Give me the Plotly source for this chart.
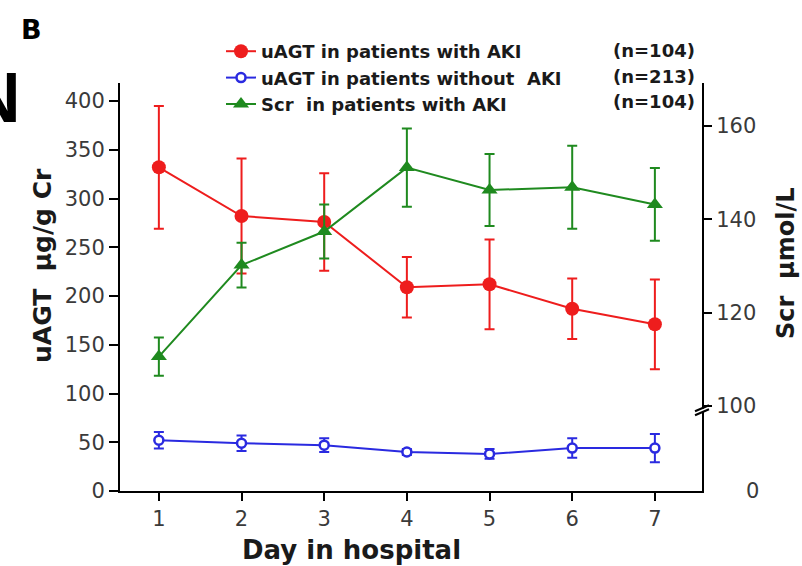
import plotly.graph_objects as go

days = [1, 2, 3, 4, 5, 6, 7]
day_labels = ["1", "2", "3", "4", "5", "6", "7"]

uagt_aki = [332, 282, 276, 209, 212, 187, 171]
uagt_aki_err = [63, 59, 50, 31, 46, 31, 46]

uagt_noaki = [52, 49, 47, 40, 38, 44, 44]
uagt_noaki_err = [8.5, 8, 7, 3, 5, 10, 14.5]

scr_aki = [110.6, 130.2, 137.4, 151.1, 146.3, 146.9, 143.2]
scr_aki_err = [4.1, 4.8, 5.8, 8.4, 7.7, 8.9, 7.8]

left_ticks = [0, 50, 100, 150, 200, 250, 300, 350, 400]
right_ticks = [100, 120, 140, 160]

names = ["uAGT in patients with AKI", "uAGT in patients without\u00a0 AKI", "Scr\u00a0 in patients with AKI"]
ns = ["(n=104)", "(n=213)", "(n=104)"]

RED = "#ee1d1d"
BLUE = "#2a2ae0"
GREEN = "#1f8a1f"
FONT = "DejaVu Sans, Verdana, sans-serif"

fig = go.Figure()

fig.add_trace(go.Scatter(
    x=days, y=uagt_aki, name=names[0], mode="lines+markers",
    line=dict(color=RED, width=2),
    marker=dict(symbol="circle", size=14, color=RED),
    error_y=dict(type="data", array=uagt_aki_err, color=RED, thickness=2, width=5),
))
fig.add_trace(go.Scatter(
    x=days, y=uagt_noaki, name=names[1], mode="lines+markers",
    line=dict(color=BLUE, width=2),
    marker=dict(symbol="circle", size=9, color="white", line=dict(color=BLUE, width=2.5)),
    error_y=dict(type="data", array=uagt_noaki_err, color=BLUE, thickness=2, width=5),
))
fig.add_trace(go.Scatter(
    x=days, y=scr_aki, name=names[2], mode="lines+markers", yaxis="y2",
    line=dict(color=GREEN, width=2),
    marker=dict(symbol="triangle-up", size=14, color=GREEN),
    error_y=dict(type="data", array=scr_aki_err, color=GREEN, thickness=2, width=5),
))

# pixel geometry helpers (plot area 120..702 x 83..491)
L, R, T, B = 120, 100, 83, 75
W, H = 802, 566
pw, ph = W - L - R, H - T - B

def px(xpix):
    return (xpix - L) / pw

def py(ypix):
    return (H - B - ypix) / ph

# right axis: 100 at pixel 406, 20 units = 93.3 px
r_per_px = 20 / 93.3
y2_min = 100 - (491 - 406) * r_per_px
y2_max = 100 + (406 - 83) * r_per_px

TICKFONT = dict(family=FONT, size=21, color="#3a3a3a")

fig.update_layout(
    width=W, height=H, autosize=False,
    margin=dict(l=L, r=R, t=T, b=B, pad=0),
    paper_bgcolor="white", plot_bgcolor="white",
    font=dict(family=FONT, size=16, color="#333"),
    showlegend=True,
    legend=dict(
        x=px(221), y=py(33), xanchor="left", yanchor="top",
        font=dict(family=FONT, size=18, color="#1a1a1a", weight="bold"),
        bgcolor="rgba(0,0,0,0)", itemwidth=30, tracegroupgap=0,
    ),
    xaxis=dict(
        range=[0.53, 7.57], tickvals=days, ticktext=day_labels,
        showline=True, linecolor="black", linewidth=2, mirror=False,
        ticks="outside", ticklen=8, tickwidth=2, tickcolor="black",
        showgrid=False, zeroline=False,
        tickfont=TICKFONT,
    ),
    yaxis=dict(
        range=[0, (491 - 83) / 0.975], tickvals=left_ticks,
        showline=True, linecolor="black", linewidth=2,
        ticks="outside", ticklen=9, tickwidth=2, tickcolor="black",
        showgrid=False, zeroline=False,
        tickfont=TICKFONT,
    ),
    yaxis2=dict(
        range=[y2_min, y2_max], tickvals=right_ticks, overlaying="y", side="right",
        showline=True, linecolor="black", linewidth=2,
        ticks="outside", ticklen=8, tickwidth=2, tickcolor="black",
        showgrid=False, zeroline=False,
        tickfont=TICKFONT,
    ),
)

ann = []
ann.append(dict(text="B", x=px(31), y=py(29), xref="paper", yref="paper",
                showarrow=False, font=dict(family=FONT, size=27, color="black", weight="bold"),
                xanchor="center", yanchor="middle"))
ann.append(dict(text="N", x=px(23), y=py(98), xref="paper", yref="paper",
                showarrow=False, font=dict(family="Liberation Sans, Arial", size=70, color="black", weight="bold"),
                xanchor="right", yanchor="middle"))
ann.append(dict(text="uAGT\u00a0 μg/g Cr", x=px(42), y=py(266), xref="paper", yref="paper",
                textangle=-90, showarrow=False,
                font=dict(family=FONT, size=25, color="#1a1a1a", weight="bold"),
                xanchor="center", yanchor="middle"))
ann.append(dict(text="Scr\u00a0 μmol/L", x=px(786), y=py(263), xref="paper", yref="paper",
                textangle=-90, showarrow=False,
                font=dict(family=FONT, size=24, color="#1a1a1a", weight="bold"),
                xanchor="center", yanchor="middle"))
ann.append(dict(text="Day in hospital", x=px(351), y=py(550), xref="paper", yref="paper",
                showarrow=False, font=dict(family=FONT, size=26, color="#1a1a1a", weight="bold"),
                xanchor="center", yanchor="middle"))
ann.append(dict(text="0", x=px(752), y=y2_min, xref="paper", yref="y2",
                showarrow=False, font=TICKFONT,
                xanchor="center", yanchor="middle"))
for i, n in enumerate(ns):
    ann.append(dict(text=n, x=px(697), y=py(50 + 26 * i), xref="paper", yref="paper",
                    showarrow=False, font=dict(family=FONT, size=18, color="#1a1a1a", weight="bold"),
                    xanchor="right", yanchor="middle"))
fig.update_layout(annotations=ann)

# axis break marks on the right axis
brk = 99.2
dy = 3 * r_per_px
dx = 7 / pw
shapes = [
    dict(type="line", xref="paper", yref="y2", x0=1, x1=1,
         y0=brk - 2.0 * r_per_px, y1=brk + 1.0 * r_per_px, line=dict(color="white", width=4)),
    dict(type="line", xref="paper", yref="y2", x0=1 - dx, x1=1 + dx,
         y0=brk + 1.5 * r_per_px - dy, y1=brk + 1.5 * r_per_px + dy, line=dict(color="black", width=2)),
    dict(type="line", xref="paper", yref="y2", x0=1 - dx, x1=1 + dx,
         y0=brk - 2.5 * r_per_px - dy, y1=brk - 2.5 * r_per_px + dy, line=dict(color="black", width=2)),
]
fig.update_layout(shapes=shapes)

fig.write_html("out.html")
